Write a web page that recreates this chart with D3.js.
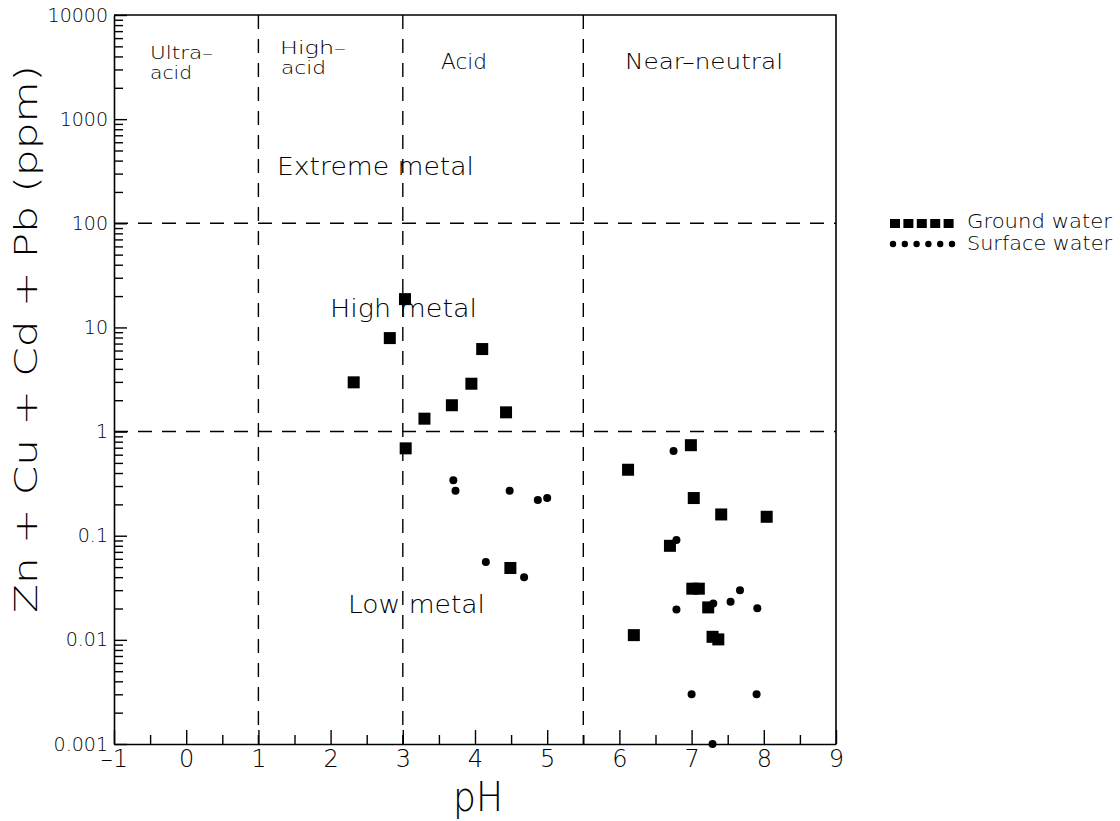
<!DOCTYPE html>
<html>
<head>
<meta charset="utf-8">
<script src="https://cdn.jsdelivr.net/npm/d3@7"></script>
<style>
  body { margin: 0; background: #fff; }
  svg { display: block; font-family: "DejaVu Sans", "Liberation Sans", sans-serif; }
  text { fill: #000; font-weight: 200; }
</style>
</head>
<body>
<svg id="Chart" width="1120" height="821"></svg>
<script>

// ground water samples (squares)
var groundPH    = [3.03, 2.82, 2.32, 4.10, 3.95, 3.68, 4.43, 3.30, 3.04, 4.49,
                   6.99, 6.12, 7.03, 7.41, 8.04, 6.70, 7.01, 7.10, 7.23, 6.20, 7.29, 7.37];
var groundMetal = [18.7, 7.9, 2.97, 6.2, 2.88, 1.79, 1.53, 1.33, 0.69, 0.049,
                   0.74, 0.43, 0.23, 0.16, 0.152, 0.080, 0.031, 0.031, 0.0205, 0.0111, 0.0107, 0.0101];

// surface water samples (dots)
var surfacePH    = [3.70, 3.73, 4.48, 4.87, 5.00, 4.15, 4.68,
                    6.75, 6.79, 7.67, 6.79, 7.30, 7.54, 7.91, 7.00, 7.90, 7.29];
var surfaceMetal = [0.34, 0.27, 0.27, 0.22, 0.23, 0.056, 0.040,
                    0.65, 0.091, 0.030, 0.0196, 0.0224, 0.0232, 0.0201, 0.0030, 0.0030, 0.0010];

var phTicks = [-1, 0, 1, 2, 3, 4, 5, 6, 7, 8, 9];
var phMinorTicks = [-0.5, 0.5, 1.5, 2.5, 3.5, 4.5, 5.5, 6.5, 7.5, 8.5];
var metalTicks = [0.001, 0.01, 0.1, 1, 10, 100, 1000, 10000];
var metalTickLabels = ["0.001", "0.01", "0.1", "1", "10", "100", "1000", "10000"];

var phBounds = [1, 3, 5.5];
var metalBounds = [1, 100];
var legendNames = ["Ground water", "Surface water"];

var svg = d3.select("#Chart");
var x = d3.scaleLinear().domain([-1, 9]).range([114, 836]);
var y = d3.scaleLog().domain([0.001, 10000]).range([744, 15]);

// minor log ticks: 2..9 in each decade
var metalMinor = [];
metalTicks.slice(0, -1).forEach(d => {
	for (let k = 2; k < 10; ++k) metalMinor.push(d * k);
});

function label(g, str, px, py, size, len, opts={}) {
	let t = g.append("text")
		.attr("x", px).attr("y", py)
		.attr("font-size", size)
		.attr("text-anchor", opts.anchor || "start")
		.text(str);
	if (len) t.attr("textLength", len).attr("lengthAdjust", "spacingAndGlyphs");
	if (opts.rotate) t.attr("transform", `rotate(${opts.rotate},${px},${py})`);
	return t;
}

// zone boundaries
var grid = svg.append("g")
	.attr("stroke", "#000").attr("stroke-width", 1.4).attr("stroke-dasharray", "14,10");
grid.selectAll("line.v").data(phBounds).join("line")
	.attr("class", "v")
	.attr("x1", d => x(d)).attr("x2", d => x(d))
	.attr("y1", y(10000)).attr("y2", y(0.001));
grid.selectAll("line.h").data(metalBounds).join("line")
	.attr("class", "h")
	.attr("x1", x(-1)).attr("x2", x(9))
	.attr("y1", d => y(d)).attr("y2", d => y(d));

// axes
var xAxis = svg.append("g").attr("transform", `translate(0,${y(0.001)})`)
	.call(d3.axisBottom(x).tickValues(phTicks).tickSize(-14).tickSizeOuter(0).tickPadding(6)
		.tickFormat(d => d < 0 ? "\u2013" + Math.abs(d) : d));
svg.append("g").attr("transform", `translate(0,${y(0.001)})`)
	.call(d3.axisBottom(x).tickValues(phMinorTicks).tickSize(-9).tickFormat(""))
	.select(".domain").remove();
xAxis.selectAll("text").attr("font-size", 24).attr("font-family", "DejaVu Sans");

var yAxis = svg.append("g").attr("transform", `translate(${x(-1)},0)`)
	.call(d3.axisLeft(y).tickValues(metalTicks).tickSize(-13).tickSizeOuter(0).tickPadding(6)
		.tickFormat((d, i) => metalTickLabels[i]));
svg.append("g").attr("transform", `translate(${x(-1)},0)`)
	.call(d3.axisLeft(y).tickValues(metalMinor).tickSize(-9).tickFormat(""))
	.select(".domain").remove();
yAxis.selectAll("text").attr("font-size", 19).attr("font-family", "DejaVu Sans");

svg.selectAll(".tick line").attr("stroke-width", 1.4);
svg.selectAll(".domain").attr("stroke-width", 1.6);

// frame top and right
svg.append("path")
	.attr("d", `M${x(-1)},${y(10000)}H${x(9)}V${y(0.001)}`)
	.attr("fill", "none").attr("stroke", "#000").attr("stroke-width", 1.6);

// zone labels
var ann = svg.append("g");
label(ann, "Ultra\u2013", 150, 59, 17, 63);
label(ann, "acid", 150, 79, 17, 42);
label(ann, "High\u2013", 280, 54, 17, 66);
label(ann, "acid", 281, 74, 17, 45);
label(ann, "Acid", 441, 69, 21, 46);
label(ann, "Near\u2013neutral", 625, 69, 21, 158);
label(ann, "Extreme  metal", 277, 175, 24, 197);
label(ann, "High  metal", 330, 317, 24, 147);
label(ann, "Low  metal", 348, 613, 24, 137);

// points
svg.append("g").selectAll("rect").data(groundPH).join("rect")
	.attr("x", (d, i) => x(d) - 6).attr("y", (d, i) => y(groundMetal[i]) - 6)
	.attr("width", 12).attr("height", 12).attr("fill", "#000");
svg.append("g").selectAll("circle").data(surfacePH).join("circle")
	.attr("cx", (d, i) => x(d)).attr("cy", (d, i) => y(surfaceMetal[i]))
	.attr("r", 4).attr("fill", "#000");

// axis titles
label(svg, "Zn  +  Cu  +  Cd  +  Pb  (ppm)", 37, 339, 32, 548, {anchor: "middle", rotate: -90});
label(svg, "pH", 478, 811, 40, 50, {anchor: "middle"});

// legend
var legend = svg.append("g");
legend.selectAll("rect").data(d3.range(5)).join("rect")
	.attr("x", d => 890 + d * 13.4).attr("y", 219)
	.attr("width", 10).attr("height", 9).attr("fill", "#000");
legend.selectAll("circle").data(d3.range(6)).join("circle")
	.attr("cx", d => 893 + d * 11.8).attr("cy", 244)
	.attr("r", 3.2).attr("fill", "#000");
label(legend, legendNames[0], 967, 228, 19, 145);
label(legend, legendNames[1], 967, 250, 19, 145);

</script>
</body>
</html>
